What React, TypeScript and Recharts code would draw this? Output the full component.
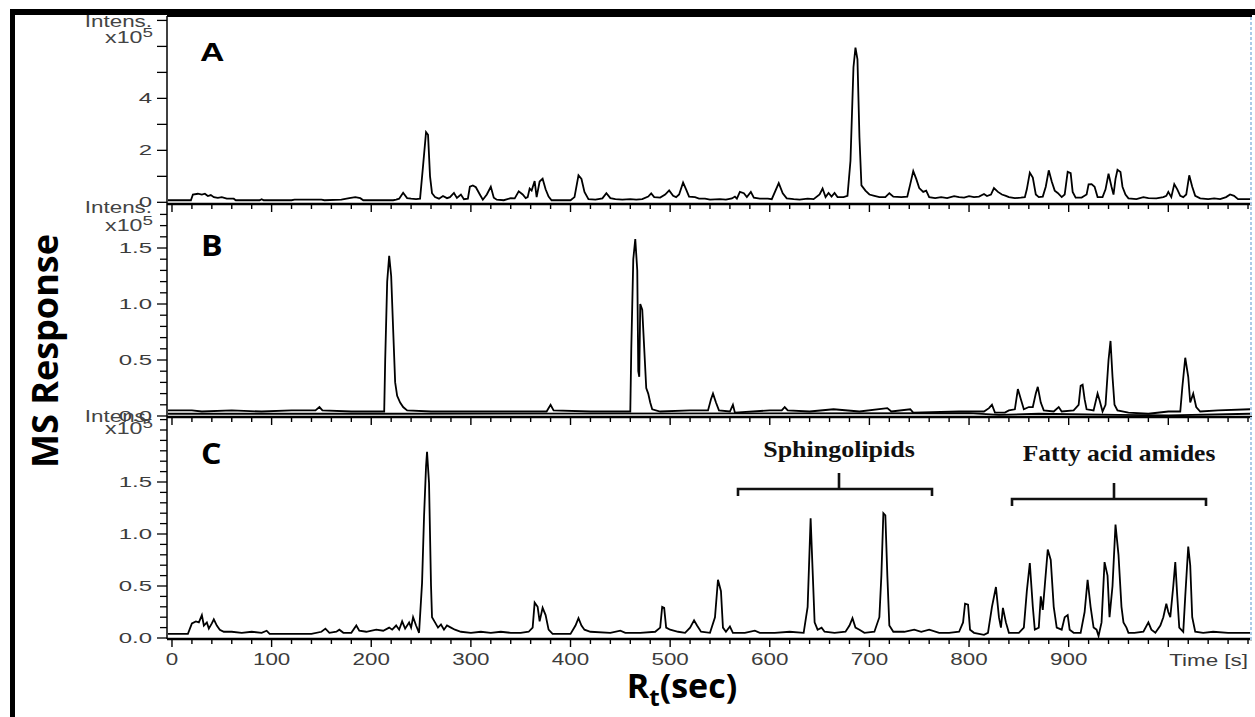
import React from "react";
import { LineChart, Line, XAxis, YAxis } from "recharts";

// retention time (s) and intensity (x10^5)
const timeA = [-4, 19, 21, 26, 30, 33, 36, 39, 42, 46, 50, 55, 62, 64, 88, 90, 92, 120, 123, 150, 153, 170, 178, 184, 189, 192, 222, 225, 228, 232, 236, 240, 245, 249, 252, 255, 257, 259, 261, 264, 268, 272, 276, 279, 283, 286, 290, 293, 297, 299, 302, 305, 309, 312, 316, 320, 323, 326, 333, 340, 344, 348, 352, 355, 357, 359, 361, 364, 366, 369, 372, 375, 378, 381, 400, 404, 408, 411, 414, 418, 425, 432, 436, 440, 445, 452, 460, 466, 472, 478, 481, 484, 490, 495, 499, 503, 506, 509, 513, 516, 519, 525, 529, 535, 540, 550, 556, 562, 565, 567, 570, 574, 577, 581, 584, 590, 598, 602, 609, 613, 617, 624, 630, 638, 644, 650, 653, 656, 659, 662, 665, 668, 674, 678, 681, 684, 686, 688, 690, 692, 696, 700, 705, 710, 716, 720, 724, 732, 738, 741, 744, 747, 750, 754, 757, 760, 766, 772, 778, 785, 790, 795, 800, 805, 810, 815, 818, 822, 825, 829, 833, 837, 840, 846, 852, 856, 858, 861, 864, 867, 870, 874, 877, 880, 883, 886, 889, 893, 896, 899, 902, 904, 907, 913, 918, 920, 923, 926, 929, 934, 937, 940, 943, 945, 947, 949, 952, 954, 957, 960, 968, 975, 980, 988, 995, 998, 1000, 1003, 1006, 1009, 1012, 1015, 1018, 1021, 1024, 1027, 1032, 1040, 1046, 1052, 1058, 1062, 1066, 1070, 1082];
const intensA = [0.08, 0.08, 0.3, 0.33, 0.3, 0.33, 0.24, 0.28, 0.2, 0.17, 0.2, 0.14, 0.14, 0.08, 0.08, 0.12, 0.08, 0.08, 0.1, 0.1, 0.08, 0.1, 0.16, 0.2, 0.16, 0.08, 0.08, 0.1, 0.14, 0.37, 0.16, 0.14, 0.12, 0.14, 1.4, 2.7, 2.6, 1.0, 0.35, 0.2, 0.14, 0.24, 0.16, 0.2, 0.36, 0.17, 0.3, 0.12, 0.14, 0.6, 0.65, 0.58, 0.3, 0.1, 0.3, 0.6, 0.18, 0.1, 0.08, 0.16, 0.15, 0.42, 0.3, 0.16, 0.2, 0.53, 0.45, 0.82, 0.2, 0.8, 0.91, 0.5, 0.22, 0.08, 0.08, 0.2, 1.04, 0.9, 0.4, 0.12, 0.1, 0.15, 0.35, 0.16, 0.12, 0.1, 0.12, 0.1, 0.12, 0.22, 0.34, 0.2, 0.18, 0.3, 0.46, 0.25, 0.2, 0.3, 0.76, 0.5, 0.22, 0.2, 0.14, 0.14, 0.1, 0.12, 0.1, 0.15, 0.22, 0.14, 0.4, 0.35, 0.2, 0.4, 0.18, 0.14, 0.14, 0.12, 0.74, 0.35, 0.15, 0.12, 0.1, 0.14, 0.12, 0.3, 0.53, 0.2, 0.36, 0.22, 0.36, 0.2, 0.2, 0.25, 1.6, 5.2, 5.95, 5.5, 2.5, 0.65, 0.45, 0.3, 0.25, 0.2, 0.2, 0.35, 0.22, 0.2, 0.22, 0.7, 1.2, 0.9, 0.55, 0.4, 0.45, 0.2, 0.16, 0.2, 0.16, 0.24, 0.2, 0.18, 0.24, 0.2, 0.22, 0.32, 0.24, 0.3, 0.55, 0.4, 0.3, 0.25, 0.2, 0.16, 0.18, 0.2, 0.5, 1.14, 0.95, 0.3, 0.2, 0.22, 0.6, 1.23, 0.8, 0.45, 0.36, 0.2, 0.3, 1.17, 1.12, 0.4, 0.18, 0.18, 0.3, 0.69, 0.7, 0.6, 0.2, 0.2, 0.5, 1.1, 0.6, 0.3, 0.9, 1.25, 1.17, 0.6, 0.3, 0.15, 0.12, 0.2, 0.16, 0.15, 0.2, 0.25, 0.4, 0.2, 0.7, 0.5, 0.25, 0.2, 0.3, 1.04, 0.6, 0.25, 0.15, 0.12, 0.15, 0.12, 0.2, 0.3, 0.25, 0.12, 0.12];

const timeB = [-4, 20, 30, 60, 90, 120, 144, 148, 151, 180, 213, 214, 216, 218, 220, 222, 224, 226, 229, 232, 236, 260, 300, 340, 376, 380, 383, 420, 460, 461, 463, 465, 467, 468, 469, 470, 472, 474, 476, 478, 480, 482, 490, 520, 538, 541, 543, 546, 549, 560, 563, 565, 600, 612, 615, 618, 640, 664, 690, 718, 722, 741, 744, 790, 815, 820, 823, 826, 836, 840, 846, 849, 852, 855, 860, 864, 867, 869, 872, 875, 885, 890, 893, 905, 910, 912, 914, 916, 918, 925, 929, 931, 934, 937, 940, 942, 944, 946, 949, 960, 980, 1000, 1012, 1014, 1017, 1020, 1022, 1025, 1028, 1032, 1050, 1082];
const intensB = [0.05, 0.05, 0.04, 0.05, 0.04, 0.05, 0.05, 0.08, 0.05, 0.04, 0.04, 0.5, 1.2, 1.43, 1.25, 0.77, 0.3, 0.18, 0.12, 0.08, 0.05, 0.04, 0.04, 0.04, 0.04, 0.1, 0.05, 0.04, 0.04, 0.6, 1.4, 1.58, 1.3, 0.4, 0.35, 1.0, 0.95, 0.6, 0.25, 0.2, 0.12, 0.06, 0.04, 0.05, 0.05, 0.15, 0.2, 0.12, 0.05, 0.04, 0.1, 0.03, 0.05, 0.05, 0.08, 0.05, 0.04, 0.06, 0.04, 0.07, 0.04, 0.06, 0.03, 0.04, 0.04, 0.07, 0.1, 0.03, 0.03, 0.05, 0.06, 0.24, 0.15, 0.06, 0.08, 0.08, 0.2, 0.26, 0.12, 0.05, 0.04, 0.08, 0.04, 0.05, 0.1, 0.27, 0.28, 0.15, 0.06, 0.05, 0.2, 0.14, 0.04, 0.1, 0.5, 0.67, 0.35, 0.1, 0.05, 0.03, 0.02, 0.04, 0.04, 0.25, 0.52, 0.35, 0.12, 0.2, 0.08, 0.04, 0.05, 0.06];
// second, nearly flat trace under B
const timeB2 = [-4, 214, 800, 830, 870, 950, 1000, 1082];
const intensB2 = [0.02, 0.02, 0.025, 0.01, 0.02, 0.01, 0.005, 0.02];

const timeC = [-4, 16, 20, 24, 27, 30, 32, 35, 37, 40, 42, 45, 48, 52, 60, 70, 80, 90, 95, 98, 140, 150, 154, 158, 165, 168, 172, 180, 185, 188, 195, 205, 212, 218, 221, 225, 228, 231, 234, 238, 240, 242, 245, 248, 251, 253, 255, 256, 258, 260, 261, 264, 267, 270, 273, 276, 280, 284, 290, 300, 310, 320, 330, 340, 350, 358, 362, 364, 367, 369, 372, 375, 378, 382, 400, 405, 408, 411, 414, 420, 440, 450, 455, 470, 485, 490, 492, 494, 496, 500, 508, 515, 520, 524, 527, 531, 540, 545, 548, 551, 553, 556, 560, 563, 575, 585, 590, 605, 620, 634, 638, 641, 643, 645, 648, 652, 655, 665, 676, 680, 683, 686, 690, 695, 705, 710, 712, 714, 716, 718, 720, 724, 735, 745, 752, 760, 770, 780, 790, 794, 796, 799, 801, 805, 815, 819, 823, 827, 830, 832, 834, 837, 840, 850, 855, 858, 861, 864, 866, 870, 872, 874, 876, 879, 882, 885, 888, 893, 896, 899, 901, 905, 912, 916, 919, 922, 925, 928, 930, 933, 936, 939, 941, 944, 947, 950, 953, 955, 958, 960, 966, 975, 980, 983, 987, 992, 995, 998, 1000, 1002, 1005, 1007, 1009, 1011, 1015, 1017, 1020, 1022, 1024, 1027, 1035, 1045, 1060, 1070, 1082];
const intensC = [0.04, 0.04, 0.14, 0.16, 0.15, 0.22, 0.12, 0.15, 0.09, 0.14, 0.18, 0.12, 0.08, 0.06, 0.06, 0.05, 0.06, 0.05, 0.07, 0.04, 0.04, 0.06, 0.09, 0.05, 0.06, 0.08, 0.05, 0.05, 0.12, 0.07, 0.06, 0.08, 0.07, 0.1, 0.08, 0.12, 0.08, 0.16, 0.09, 0.15, 0.1, 0.2, 0.12, 0.05, 0.53, 1.17, 1.65, 1.79, 1.49, 0.5, 0.2, 0.15, 0.1, 0.13, 0.08, 0.12, 0.1, 0.08, 0.06, 0.05, 0.06, 0.05, 0.06, 0.05, 0.05, 0.06, 0.1, 0.34, 0.3, 0.16, 0.29, 0.22, 0.08, 0.04, 0.04, 0.12, 0.19, 0.12, 0.08, 0.06, 0.05, 0.07, 0.05, 0.05, 0.06, 0.1, 0.3, 0.29, 0.1, 0.08, 0.06, 0.05, 0.1, 0.17, 0.12, 0.06, 0.05, 0.2, 0.56, 0.45, 0.1, 0.06, 0.11, 0.05, 0.05, 0.07, 0.05, 0.05, 0.06, 0.05, 0.3, 1.15, 0.65, 0.15, 0.08, 0.1, 0.06, 0.05, 0.06, 0.12, 0.19, 0.1, 0.08, 0.05, 0.06, 0.2, 0.6, 1.2, 1.18, 0.6, 0.12, 0.06, 0.06, 0.08, 0.06, 0.08, 0.05, 0.05, 0.06, 0.15, 0.33, 0.32, 0.08, 0.05, 0.03, 0.05, 0.3, 0.49, 0.2, 0.1, 0.29, 0.15, 0.05, 0.05, 0.1, 0.45, 0.72, 0.3, 0.08, 0.1, 0.4, 0.27, 0.5, 0.85, 0.75, 0.3, 0.1, 0.08, 0.2, 0.22, 0.08, 0.05, 0.05, 0.25, 0.56, 0.3, 0.1, 0.08, 0.02, 0.15, 0.73, 0.6, 0.2, 0.5, 1.09, 0.8, 0.3, 0.15, 0.1, 0.05, 0.05, 0.06, 0.15, 0.08, 0.05, 0.12, 0.2, 0.33, 0.25, 0.2, 0.5, 0.73, 0.4, 0.1, 0.06, 0.4, 0.88, 0.7, 0.2, 0.06, 0.05, 0.06, 0.05, 0.05, 0.05];

const xTicks = [0, 20, 40, 60, 80, 100, 120, 140, 160, 180, 200, 220, 240, 260, 280, 300, 320, 340, 360, 380, 400, 420, 440, 460, 480, 500, 520, 540, 560, 580, 600, 620, 640, 660, 680, 700, 720, 740, 760, 780, 800, 820, 840, 860, 880, 900, 920, 940, 960, 980, 1000, 1020, 1040, 1060, 1080];
const xLabels = [0, 100, 200, 300, 400, 500, 600, 700, 800, 900];
const yTicksA = [0, 1, 2, 3, 4, 5, 6, 7];
const yLabelsA = [0, 2, 4];
const yTicksB = [0, 0.1, 0.2, 0.3, 0.4, 0.5, 0.6, 0.7, 0.8, 0.9, 1.0, 1.1, 1.2, 1.3, 1.4, 1.5, 1.6, 1.7, 1.8];
const yLabelsB = [0, 0.5, 1.0, 1.5];
const yTicksC = [0, 0.1, 0.2, 0.3, 0.4, 0.5, 0.6, 0.7, 0.8, 0.9, 1.0, 1.1, 1.2, 1.3, 1.4, 1.5, 1.6, 1.7, 1.8, 1.9, 2.0, 2.1];
const yLabelsC = [0, 0.5, 1.0, 1.5];

const W = 1255;
const H = 717;
const SANS = "'Liberation Sans', Arial, sans-serif";
const TICK_GREY = "#3c3c3c";

const zip = (t: number[], v: number[]) => t.map((x, i) => ({ t: x, v: v[i] }));

const dataA = zip(timeA, intensA);
const dataB = zip(timeB, intensB);
const dataB2 = zip(timeB2, intensB2);
const dataC = zip(timeC, intensC);

const hasValue = (list: number[], v: number) => list.some((l) => Math.abs(l - v) < 1e-6);

function makeXTick(withLabels: boolean) {
  return (props: any) => {
    const { x, y, payload } = props;
    const v = payload.value;
    const major = v % 100 === 0;
    return (
      <g>
        <line x1={x} x2={x} y1={y} y2={y + (major ? 8 : 5)} stroke="#000" strokeWidth={1.4} />
        {withLabels && hasValue(xLabels, v) && (
          <text
            transform={`translate(${x},${y + 26}) scale(1.4,1)`}
            textAnchor="middle"
            fontFamily={SANS}
            fontSize={16}
            fill={TICK_GREY}
          >
            {v}
          </text>
        )}
      </g>
    );
  };
}

function makeYTick(labels: number[], decimals: number, minorLen: number) {
  return (props: any) => {
    const { x, y, payload } = props;
    const v = payload.value;
    const lab = hasValue(labels, v);
    const len = lab ? 10 : minorLen;
    return (
      <g>
        <line x1={x - len} x2={x} y1={y} y2={y} stroke="#000" strokeWidth={1.3} />
        {lab && (
          <text
            transform={`translate(${x - 15},${y + 5}) scale(1.6,1)`}
            textAnchor="end"
            fontFamily={SANS}
            fontSize={15}
            fill={TICK_GREY}
          >
            {v.toFixed(decimals)}
          </text>
        )}
      </g>
    );
  };
}

type PanelProps = {
  series: { t: number; v: number }[][];
  top: number;
  bottom: number;
  yDomain: [number, number];
  yTicks: number[];
  yTick: (p: any) => React.ReactElement;
  xLabelsOn: boolean;
  topLine?: boolean;
};

function Panel({ series, top, bottom, yDomain, yTicks, yTick, xLabelsOn, topLine }: PanelProps) {
  // axes get a 1px band so recharts still draws them
  return (
    <div style={{ position: "absolute", left: 0, top: 0 }}>
      <LineChart
        width={W}
        height={H}
        margin={{ top: topLine ? top - 1 : top, right: 3, left: 0, bottom: H - bottom - 1 }}
      >
        <XAxis
          xAxisId={0}
          dataKey="t"
          type="number"
          domain={[-5, 1084]}
          allowDataOverflow
          ticks={xTicks}
          interval={0}
          height={1}
          tickSize={0}
          tickMargin={0}
          tick={makeXTick(xLabelsOn)}
          tickLine={false}
          axisLine={{ stroke: "#000", strokeWidth: 2.4 }}
        />
        {topLine && (
          <XAxis
            xAxisId="top"
            orientation="top"
            dataKey="t"
            type="number"
            domain={[-5, 1084]}
            height={1}
            tick={false}
            tickLine={false}
            axisLine={{ stroke: "#000", strokeWidth: 1.8 }}
          />
        )}
        <YAxis
          type="number"
          domain={yDomain}
          allowDataOverflow
          ticks={yTicks}
          interval={0}
          width={167}
          tickSize={0}
          tickMargin={0}
          tick={yTick}
          tickLine={false}
          axisLine={{ stroke: "#000", strokeWidth: 1.5 }}
        />
        {series.map((d, i) => (
          <Line
            key={i}
            data={d}
            dataKey="v"
            type="linear"
            stroke="#000"
            strokeWidth={1.8}
            dot={false}
            activeDot={false}
            isAnimationActive={false}
          />
        ))}
      </LineChart>
    </div>
  );
}

function Stretched({ x, y, sx, children, ...rest }: any) {
  return (
    <text transform={`translate(${x},${y}) scale(${sx},1)`} {...rest}>
      {children}
    </text>
  );
}

function IntensLabel({ y1, y2 }: { y1: number; y2: number }) {
  return (
    <g fill="#444" fontFamily={SANS}>
      <Stretched x={152} y={y1} sx={1.4} textAnchor="end" fontSize={16}>
        Intens.
      </Stretched>
      <Stretched x={153} y={y2} sx={1.45} textAnchor="end" fontSize={16}>
        x10<tspan dy={-6} fontSize={13}>5</tspan>
      </Stretched>
    </g>
  );
}

function Overlay() {
  return (
    <svg width={W} height={H} style={{ position: "absolute", left: 0, top: 0, pointerEvents: "none" }}>
      {/* heavy black frame on top and left */}
      <rect x={10} y={9} width={W - 10} height={6} fill="#000" />
      <rect x={10} y={9} width={5} height={H - 9} fill="#000" />
      {/* dashed blue right edge */}
      <line x1={1251} x2={1251} y1={17} y2={642} stroke="#a9cbe8" strokeWidth={2} strokeDasharray="3 2" />

      <IntensLabel y1={27} y2={43} />
      <IntensLabel y1={213} y2={231} />
      <IntensLabel y1={422} y2={434} />

      <Stretched x={200} y={61} sx={1.3} fontFamily={SANS} fontWeight="bold" fontSize={26} fill="#000">
        A
      </Stretched>
      <Stretched x={201} y={256} sx={1.15} fontFamily="'Open Sans', sans-serif" fontWeight="bold" fontSize={28} fill="#000">
        B
      </Stretched>
      <Stretched x={201} y={464} sx={1.15} fontFamily="'Open Sans', sans-serif" fontWeight="bold" fontSize={28} fill="#000">
        C
      </Stretched>

      <Stretched x={1248} y={666} sx={1.4} textAnchor="end" fontFamily={SANS} fontSize={16} fill={TICK_GREY}>
        Time [s]
      </Stretched>

      <text
        transform="translate(58,351) rotate(-90)"
        textAnchor="middle"
        fontFamily="'Open Sans', sans-serif"
        fontWeight="bold"
        fontSize={36}
        fill="#000"
      >
        MS Response
      </text>
      <text x={682} y={698} textAnchor="middle" fontFamily="'Open Sans', sans-serif" fontWeight="bold" fontSize={34} fill="#000">
        R<tspan dy={8} fontSize={24}>t</tspan>
        <tspan dy={-8}>(sec)</tspan>
      </text>

      <Stretched x={839} y={457} sx={1.13} textAnchor="middle" fontFamily="'Liberation Serif', 'Times New Roman', serif" fontWeight="bold" fontSize={23} fill="#111">
        Sphingolipids
      </Stretched>
      <path d="M738,496 L738,489 L932,489 L932,496 M839,489 L839,473" fill="none" stroke="#111" strokeWidth={2.6} />

      <Stretched x={1119} y={461} sx={1.11} textAnchor="middle" fontFamily="'Liberation Serif', 'Times New Roman', serif" fontWeight="bold" fontSize={23} fill="#111">
        Fatty acid amides
      </Stretched>
      <path d="M1012,506 L1012,499 L1206,499 L1206,506 M1114,499 L1114,483" fill="none" stroke="#111" strokeWidth={2.6} />
    </svg>
  );
}

export default function App() {
  return (
    <div style={{ position: "absolute", left: 0, top: 0, width: W, height: H, background: "#fff", overflow: "hidden" }}>
      <Panel
        series={[dataA]}
        top={16}
        bottom={204}
        yDomain={[-0.065, 7.17]}
        yTicks={yTicksA}
        yTick={makeYTick(yLabelsA, 0, 10)}
        xLabelsOn={false}
        topLine
      />
      <Panel
        series={[dataB2, dataB]}
        top={204}
        bottom={417}
        yDomain={[-0.009, 1.893]}
        yTicks={yTicksB}
        yTick={makeYTick(yLabelsB, 1, 7)}
        xLabelsOn={false}
      />
      <Panel
        series={[dataC]}
        top={417}
        bottom={639}
        yDomain={[-0.0096, 2.125]}
        yTicks={yTicksC}
        yTick={makeYTick(yLabelsC, 1, 7)}
        xLabelsOn
      />
      <Overlay />
    </div>
  );
}
